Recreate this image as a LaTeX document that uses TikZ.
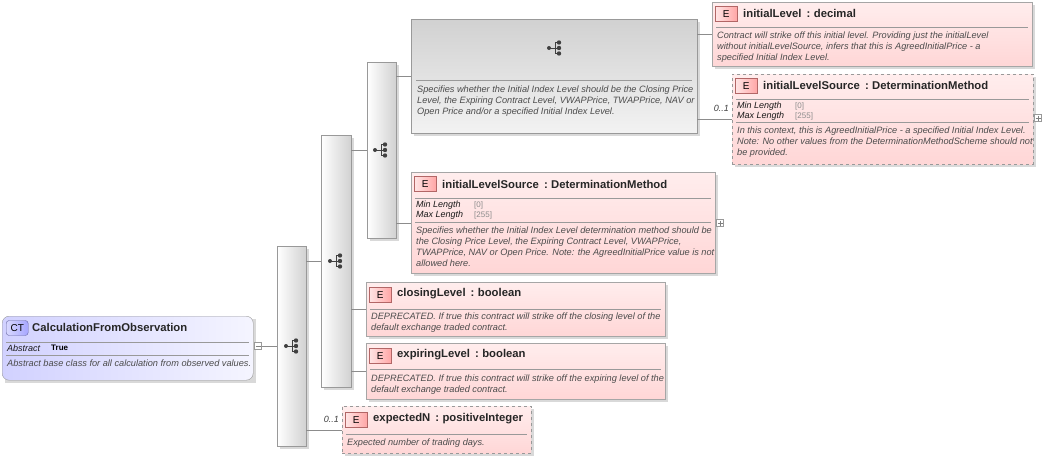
\documentclass[tikz,border=0pt]{standalone}
\usepackage{fontspec}
\setmainfont{Liberation Sans}
\begin{document}
\begin{tikzpicture}[x=1pt,y=-1pt,
  el/.style={draw=black!35,left color=red!7,right color=red!16,shading angle=0,anchor=north west,inner sep=0},
  opt/.style={el,dashed,draw=black!40},
  seqbar/.style={draw=black!40,left color=white,right color=black!18,anchor=north west,inner sep=0},
  grp/.style={draw=black!40,top color=black!18,bottom color=black!5,anchor=north west,inner sep=0},
  ct/.style={draw=black!40,rounded corners=7pt,left color=blue!18,right color=blue!4,anchor=north west,inner sep=0},
  ttl/.style={anchor=west,font=\fontsize{11.3}{13}\selectfont\bfseries,text=black!85,inner sep=0},
  dsc/.style={anchor=north west,font=\fontsize{9.2}{11}\selectfont\itshape,text=black!70,align=left,inner sep=0,yshift=-2pt},
  prop/.style={anchor=west,font=\fontsize{9}{10}\selectfont\itshape,text=black!90,inner sep=0},
  pval/.style={anchor=west,font=\fontsize{8}{9}\selectfont,text=black!45,inner sep=0},
  sep/.style={draw=black!40},
  con/.style={draw=black!45},
  card/.style={anchor=east,font=\fontsize{9}{10}\selectfont\itshape,text=black!75,inner sep=1pt},
  badge/.style={draw=red!50!black!60,left color=red!10,right color=red!35,minimum width=22pt,minimum height=15pt,inner sep=0,font=\fontsize{10}{11}\selectfont,anchor=west},
  pm/.style={draw=black!40,fill=white,minimum size=7pt,inner sep=0}]
\useasboundingbox (0,0) rectangle (1044,458);
\newcommand{\seqicon}[1]{%
  \begin{scope}[shift={#1}]
   \draw[black!75,line width=0.9pt] (-6,0)--(0,0) (0,-5.5)--(0,5.5) (0,-5.5)--(4,-5.5) (0,5.5)--(4,5.5) (0,0)--(4,0);
   \fill[black!75] (-6,0) circle (2pt) (4,-5.5) circle (2.2pt) (4,0) circle (2.2pt) (4,5.5) circle (2.2pt);
  \end{scope}}
\newcommand{\tcol}{\hspace{0.45em}:\hspace{0.3em}}
% shadows
\foreach \a/\b/\c/\d in {2/316/253/380,277/246/306/446,321/135/351/387,367/62/396/238,411/19/697/133,712/2/1032/66,732/74/1033/164,411/172/715/273,366/282/665/336,366/343/665/399,342/406/531/453}
  \fill[black!15] (\a+3,\b+3) rectangle (\c+3,\d+3);
% CT
\node[ct,minimum width=251pt,minimum height=64pt] (ct) at (2,316) {};
\node[draw=blue!40!black!60,rounded corners=3pt,left color=blue!15,right color=blue!35,minimum width=22pt,minimum height=15pt,inner sep=0,font=\fontsize{10}{11}\selectfont,anchor=west] (ctb) at (6,328) {CT};
\node[ttl] at (32,327) {CalculationFromObservation};
\draw[sep] (6,342)--(249,342) (6,355)--(249,355);
\node[prop] at (7,348.5) {Abstract};
\node[anchor=west,font=\fontsize{8}{9}\selectfont\bfseries,inner sep=0] at (51,348) {True};
\node[dsc] at (7,358) {Abstract base class for all calculation from observed values.};
% sequence bars
\node[seqbar,minimum width=29pt,minimum height=200pt] (s1) at (277,246) {};
\node[seqbar,minimum width=30pt,minimum height=252pt] (s2) at (321,135) {};
\node[seqbar,minimum width=29pt,minimum height=176pt] (s3) at (367,62) {};
\seqicon{(292,346)} \seqicon{(336,261)} \seqicon{(381,150)}
% group
\node[grp,minimum width=286pt,minimum height=114pt] (g) at (411,19) {};
\seqicon{(555,48)}
\draw[sep] (416,80)--(692,80);
\node[dsc] at (417,83.5) {Specifies whether the Initial Index Level should be the Closing Price\\Level, the Expiring Contract Level, VWAPPrice, TWAPPrice, NAV or\\Open Price and/or a specified Initial Index Level.};
% initialLevel
\node[el,minimum width=320pt,minimum height=64pt] (il) at (712,2) {};
\node[badge] at (715,14) {E};
\node[ttl] at (743,13) {initialLevel\tcol decimal};
\draw[sep] (716,27)--(1028,27);
\node[dsc] at (717,29.5) {Contract will strike off this initial level. Providing just the initialLevel\\without initialLevelSource, infers that this is AgreedInitialPrice - a\\specified Initial Index Level.};
% initialLevelSource (optional)
\node[opt,minimum width=301pt,minimum height=90pt] (ils) at (732,74) {};
\node[badge] at (735,86) {E};
\node[ttl] at (763,85) {initialLevelSource\tcol DeterminationMethod};
\draw[sep] (736,99)--(1029,99) (736,122)--(1029,122);
\node[prop] at (737,106) {Min Length}; \node[pval] at (795,106) {[0]};
\node[prop] at (737,116) {Max Length}; \node[pval] at (795,116) {[255]};
\node[dsc] at (737,125) {In this context, this is AgreedInitialPrice - a specified Initial Index Level.\\Note: No other values from the DeterminationMethodScheme should not\\be provided.};
\node[pm] (p1) at (1038,118) {}; \draw[black!50] (1035.5,118)--(1040.5,118) (1038,115.5)--(1038,120.5);
% initialLevelSource 2
\node[el,minimum width=304pt,minimum height=101pt] (ils2) at (411,172) {};
\node[badge] at (414,184) {E};
\node[ttl] at (442,184) {initialLevelSource\tcol DeterminationMethod};
\draw[sep] (415,198)--(711,198) (415,222)--(711,222);
\node[prop] at (416,205) {Min Length}; \node[pval] at (474,205) {[0]};
\node[prop] at (416,215) {Max Length}; \node[pval] at (474,215) {[255]};
\node[dsc] at (416,224.5) {Specifies whether the Initial Index Level determination method should be\\the Closing Price Level, the Expiring Contract Level, VWAPPrice,\\TWAPPrice, NAV or Open Price. Note: the AgreedInitialPrice value is not\\allowed here.};
\node[pm] (p2) at (720,223) {}; \draw[black!50] (717.5,223)--(722.5,223) (720,220.5)--(720,225.5);
% closingLevel
\node[el,minimum width=299pt,minimum height=54pt] (cl) at (366,282) {};
\node[badge] at (369,295) {E};
\node[ttl] at (397,294) {closingLevel\tcol boolean};
\draw[sep] (370,309)--(661,309);
\node[dsc] at (371,311) {DEPRECATED. If true this contract will strike off the closing level of the\\default exchange traded contract.};
% expiringLevel
\node[el,minimum width=299pt,minimum height=56pt] (ex) at (366,343) {};
\node[badge] at (369,356) {E};
\node[ttl] at (397,355) {expiringLevel\tcol boolean};
\draw[sep] (370,369)--(661,369);
\node[dsc] at (371,373) {DEPRECATED. If true this contract will strike off the expiring level of the\\default exchange traded contract.};
% expectedN
\node[opt,minimum width=189pt,minimum height=47pt] (en) at (342,406) {};
\node[badge] at (345,420) {E};
\node[ttl] at (373,419) {expectedN\tcol positiveInteger};
\draw[sep] (346,434)--(527,434);
\node[dsc] at (347,436.5) {Expected number of trading days.};
% collapse minus
\node[pm] (m) at (258,346) {}; \draw[black!50] (255.5,346)--(260.5,346);
% connectors
\draw[con] (m.east)--(s1.west |- m.east);
\draw[con] (s1.east |- s2.west)--(s2.west);
\draw[con] (s1.east |- en.west)--(en.west);
\draw[con] (s2.east |- s3.west)--(s3.west);
\draw[con] (s2.east |- cl.west)--(cl.west);
\draw[con] (s2.east |- ex.west)--(ex.west);
\draw[con] (s3.east |- g.west)--(g.west);
\draw[con] (s3.east |- ils2.west)--(ils2.west);
\draw[con] (g.east |- il.west)--(il.west);
\draw[con] (g.east |- ils.west)--(ils.west);
\node[card] at (730,108) {0..1};
\node[card] at (340,419) {0..1};
\end{tikzpicture}
\end{document}
